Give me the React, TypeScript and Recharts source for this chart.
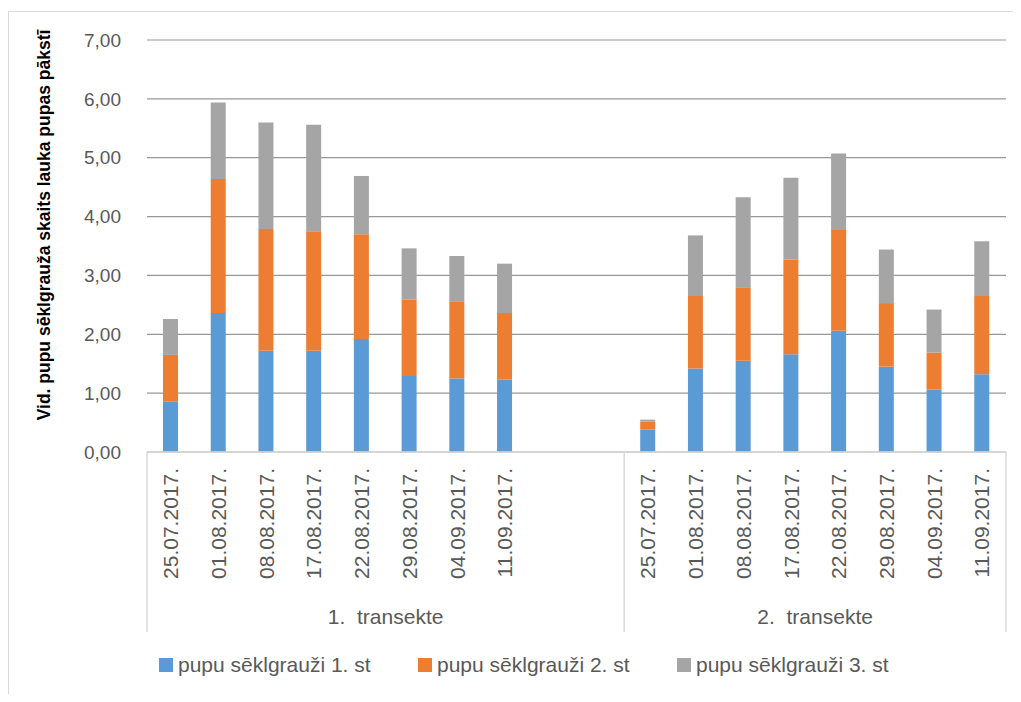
import { BarChart, Bar, XAxis, YAxis, CartesianGrid, Legend } from 'recharts';

// sampling dates, same in both transects
const dates = [
  '25.07.2017.', '01.08.2017.', '08.08.2017.', '17.08.2017.',
  '22.08.2017.', '29.08.2017.', '04.09.2017.', '11.09.2017.',
];
const gapSlots = 2;
const transects = ['1.  transekte', '2.  transekte'];

const seriesNames = ['pupu sēklgrauži 1. st', 'pupu sēklgrauži 2. st', 'pupu sēklgrauži 3. st'];
const seriesColors = ['#5b9bd5', '#ed7d31', '#a5a5a5'];

const t1Stage1 = [0.86, 2.36, 1.72, 1.72, 1.92, 1.29, 1.25, 1.23];
const t1Stage2 = [0.79, 2.28, 2.07, 2.03, 1.78, 1.30, 1.31, 1.13];
const t1Stage3 = [0.61, 1.30, 1.81, 1.81, 0.99, 0.87, 0.77, 0.84];

const t2Stage1 = [0.38, 1.42, 1.55, 1.66, 2.06, 1.45, 1.06, 1.32];
const t2Stage2 = [0.14, 1.23, 1.25, 1.61, 1.71, 1.08, 0.63, 1.33];
const t2Stage3 = [0.03, 1.03, 1.53, 1.39, 1.30, 0.91, 0.73, 0.93];

const yTicks = [0, 1, 2, 3, 4, 5, 6, 7];

type Row = { date: string; s1?: number; s2?: number; s3?: number };

const rows: Row[] = [
  ...dates.map((date, i) => ({ date, s1: t1Stage1[i], s2: t1Stage2[i], s3: t1Stage3[i] })),
  ...Array.from({ length: gapSlots }, () => ({ date: '' })),
  ...dates.map((date, i) => ({ date, s1: t2Stage1[i], s2: t2Stage2[i], s3: t2Stage3[i] })),
];

// first slot and number of slots of each transect block
const groupStarts = [0, dates.length + gapSlots];
const groupSpans = [dates.length + gapSlots, dates.length];

const FONT = '"Liberation Sans", Arial, sans-serif';
const TEXT = '#595959';
const LINE = '#d9d9d9';
const AXIS_H = 180;

function DateTick(props: any) {
  const { x, y, payload, index } = props;
  const half = payload?.offset || 23.9;
  const left = x - half;
  const g = groupStarts.indexOf(index);
  const ly = y + 16;
  return (
    <g>
      {payload.value ? (
        <text
          x={x}
          y={ly}
          dy="0.35em"
          transform={`rotate(-90 ${x} ${ly})`}
          textAnchor="end"
          fill={TEXT}
          fontSize={21}
          fontFamily={FONT}
        >
          {payload.value}
        </text>
      ) : null}
      {g >= 0 && (
        <>
          <line x1={left} x2={left} y1={y} y2={y + AXIS_H} stroke={LINE} strokeWidth={1.5} />
          <text
            x={left + groupSpans[g] * half}
            y={y + 172}
            textAnchor="middle"
            fill={TEXT}
            fontSize={21}
            fontFamily={FONT}
            style={{ whiteSpace: 'pre' }}
          >
            {transects[g]}
          </text>
        </>
      )}
      {index === rows.length - 1 && (
        <line x1={x + half} x2={x + half} y1={y} y2={y + AXIS_H} stroke={LINE} strokeWidth={1.5} />
      )}
    </g>
  );
}

function LegendRow(props: any) {
  const items = props.payload || [];
  return (
    <div style={{ display: 'flex', fontFamily: FONT, fontSize: 21, color: TEXT }}>
      {items.map((it: any) => (
        <div key={it.value} style={{ width: 259, display: 'flex', alignItems: 'center' }}>
          <span style={{ width: 14, height: 14, background: it.color, marginRight: 5, display: 'inline-block' }} />
          <span style={{ whiteSpace: 'nowrap' }}>{it.value}</span>
        </div>
      ))}
    </div>
  );
}

function YTitle(props: any) {
  const vb = props.viewBox || { x: 0, y: 32, width: 139, height: 412 };
  const cx = vb.x + 36;
  const cy = vb.y + vb.height / 2 - 21;
  return (
    <text
      x={cx}
      y={cy}
      transform={`rotate(-90 ${cx} ${cy})`}
      textAnchor="middle"
      dy="0.35em"
      fontWeight="bold"
      fontSize={17.5}
      fontFamily={FONT}
      fill="#000"
    >
      Vid. pupu sēklgrauža skaits lauka pupas pākstī
    </text>
  );
}

export default function App() {
  return (
    <div
      style={{
        position: 'relative',
        width: 1013,
        height: 694,
        marginBottom: -8,
        overflow: 'hidden',
        background: '#fff',
      }}
    >
      <div
        style={{
          position: 'absolute',
          left: 0,
          top: 3,
          width: 1100,
          height: 800,
          border: `1px solid ${LINE}`,
          boxSizing: 'border-box',
        }}
      />
      <BarChart
        width={1013}
        height={686}
        data={rows}
        margin={{ top: 32, right: 15, left: 0, bottom: 62 }}
        barSize={15}
        style={{ fontFamily: FONT }}
      >
        <CartesianGrid vertical={false} stroke="#989898" strokeWidth={1.2} />
        <XAxis
          dataKey="date"
          interval={0}
          height={AXIS_H}
          tickSize={0}
          tickMargin={0}
          tickLine={false}
          axisLine={{ stroke: LINE, strokeWidth: 1.5 }}
          tick={<DateTick />}
        />
        <YAxis
          width={139}
          domain={[0, 7]}
          ticks={yTicks}
          axisLine={false}
          tickLine={false}
          tickMargin={20}
          tick={{ fill: TEXT, fontSize: 19, fontFamily: FONT }}
          tickFormatter={(v: number) => v.toFixed(2).replace('.', ',')}
          label={<YTitle />}
        />
        <Legend
          layout="vertical"
          align="center"
          verticalAlign="middle"
          wrapperStyle={{ top: 645, left: 151, width: 850 }}
          content={<LegendRow />}
        />
        <Bar dataKey="s1" name={seriesNames[0]} stackId="a" fill={seriesColors[0]} isAnimationActive={false} />
        <Bar dataKey="s2" name={seriesNames[1]} stackId="a" fill={seriesColors[1]} isAnimationActive={false} />
        <Bar dataKey="s3" name={seriesNames[2]} stackId="a" fill={seriesColors[2]} isAnimationActive={false} />
      </BarChart>
    </div>
  );
}
